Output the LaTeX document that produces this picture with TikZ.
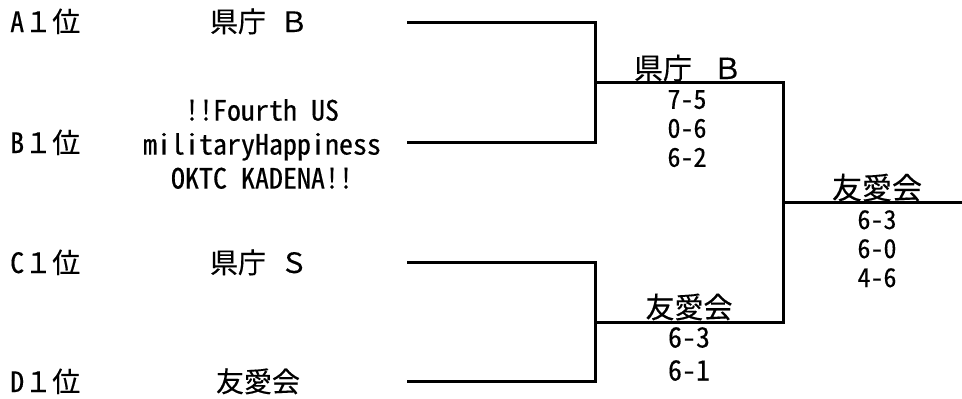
\documentclass[tikz,border=0pt]{standalone}
\usepackage{fontspec}
\setmainfont{Noto Sans CJK JP}[FakeBold=0.3]
\newfontfamily\hw{Noto Sans CJK JP}[RawFeature=+hwid, FakeBold=0.3]
\newcommand{\fs}[2]{\fontsize{#1}{#2}\selectfont}
\begin{document}
\begin{tikzpicture}[x=1pt,y=-1pt,
  bracket/.style={line width=3pt, line join=miter},
  seed/.style={anchor=base west, inner sep=0pt, font=\fs{28}{34}},
  team/.style={anchor=base, inner sep=0pt, font=\fs{28}{34}},
  winner/.style={anchor=base, inner sep=0pt, font=\fs{29}{34}},
  scores/.style={anchor=north, inner sep=0pt, align=center, font=\hw\fs{26}{29}}]
\useasboundingbox (0,0) rectangle (962,399);
% seeds
\node[seed] (sA) at (10,32) {{\hw A}１位};
\node[seed] (sB) at (10,153) {{\hw B}１位};
\node[seed] (sC) at (10,273) {{\hw C}１位};
\node[seed] (sD) at (10,392) {{\hw D}１位};
% teams
\node[team] (tA) at (259,32) {県庁{\hw\ }Ｂ};
\node[anchor=center, inner sep=0pt, align=center, font=\hw\fs{28}{34}] (tB) at (262,144)
  {!!Fourth US\\militaryHappiness\\OKTC KADENA!!};
\node[team] (tC) at (259,273) {県庁{\hw\ }Ｓ};
\node[team] (tD) at (258,392) {友愛会};
% bracket points
\coordinate (pA) at (407,22);
\coordinate (pB) at (407,142);
\coordinate (pC) at (407,262);
\coordinate (pD) at (407,381);
\coordinate (j1) at (595,82);
\coordinate (j2) at (595,322);
\coordinate (f) at (783,202);
\coordinate (fe) at (962,202);
\draw[bracket] (pA) -| (j1) |- (pB);
\draw[bracket] (pC) -| (j2) |- (pD);
\draw[bracket] (j1) -| (f) |- (j2);
\draw[bracket] (f) -- (fe);
% semifinal results
\node[winner] (w1) at (688,79) {県庁{\fs{21}{21}　}Ｂ};
\node[scores] (r1) at (687,90) {7-5\\0-6\\6-2};
\node[winner] (w2) at (689,318) {友愛会};
\node[scores, font=\hw\fs{28}{33}] (r2) at (689,327) {6-3\\6-1};
% final
\node[winner, font=\fs{30}{34}] (w3) at (877,199) {友愛会};
\node[scores] (r3) at (877,210) {6-3\\6-0\\4-6};
\end{tikzpicture}
\end{document}
